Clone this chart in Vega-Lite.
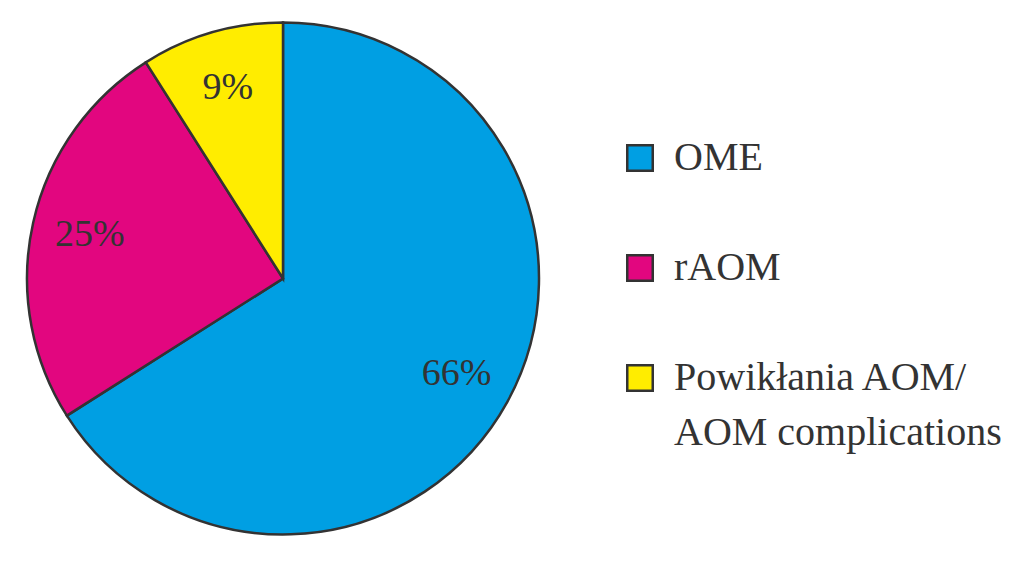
{
  "$schema": "https://vega.github.io/schema/vega-lite/v6.json",
  "width": 566,
  "height": 557,
  "padding": {"left": 0, "top": 0, "right": 0, "bottom": 0},
  "background": "white",
  "config": {"view": {"stroke": null}},
  "data": {
    "values": [
      {"category": "OME", "value": 66, "label": "66%", "order": 1},
      {"category": "rAOM", "value": 25, "label": "25%", "order": 2},
      {"category": "Powikłania AOM/AOM complications", "value": 9, "label": "9%", "order": 3}
    ]
  },
  "encoding": {
    "theta": {"field": "value", "type": "quantitative", "stack": true},
    "order": {"field": "order", "type": "quantitative"}
  },
  "layer": [
    {
      "mark": {"type": "arc", "outerRadius": 256, "stroke": "#333333", "strokeWidth": 2.5},
      "encoding": {
        "color": {
          "field": "category",
          "type": "nominal",
          "sort": ["OME", "rAOM", "Powikłania AOM/AOM complications"],
          "scale": {
            "domain": ["OME", "rAOM", "Powikłania AOM/AOM complications"],
            "range": ["#009fe3", "#e2067f", "#ffed00"]
          },
          "legend": {
            "orient": "none",
            "legendX": 620,
            "legendY": 138,
            "title": null,
            "symbolType": "square",
            "symbolSize": 650,
            "symbolStrokeColor": "#333333",
            "symbolStrokeWidth": 2.5,
            "symbolOpacity": 1,
            "labelFont": "Liberation Serif",
            "labelFontSize": 40,
            "labelColor": "#333333",
            "labelOffset": 14,
            "labelLimit": 600,
            "rowPadding": 70,
            "labelExpr": "datum.label == 'Powikłania AOM/AOM complications' ? ['Powikłania AOM/', 'AOM complications'] : datum.label",
            "encode": {"labels": {"update": {"lineHeight": {"value": 55}}}}
          }
        }
      }
    },
    {
      "mark": {"type": "text", "radius": 198, "font": "Liberation Serif", "fontSize": 38, "color": "#333333"},
      "encoding": {
        "text": {"field": "label", "type": "nominal"}
      }
    }
  ]
}
